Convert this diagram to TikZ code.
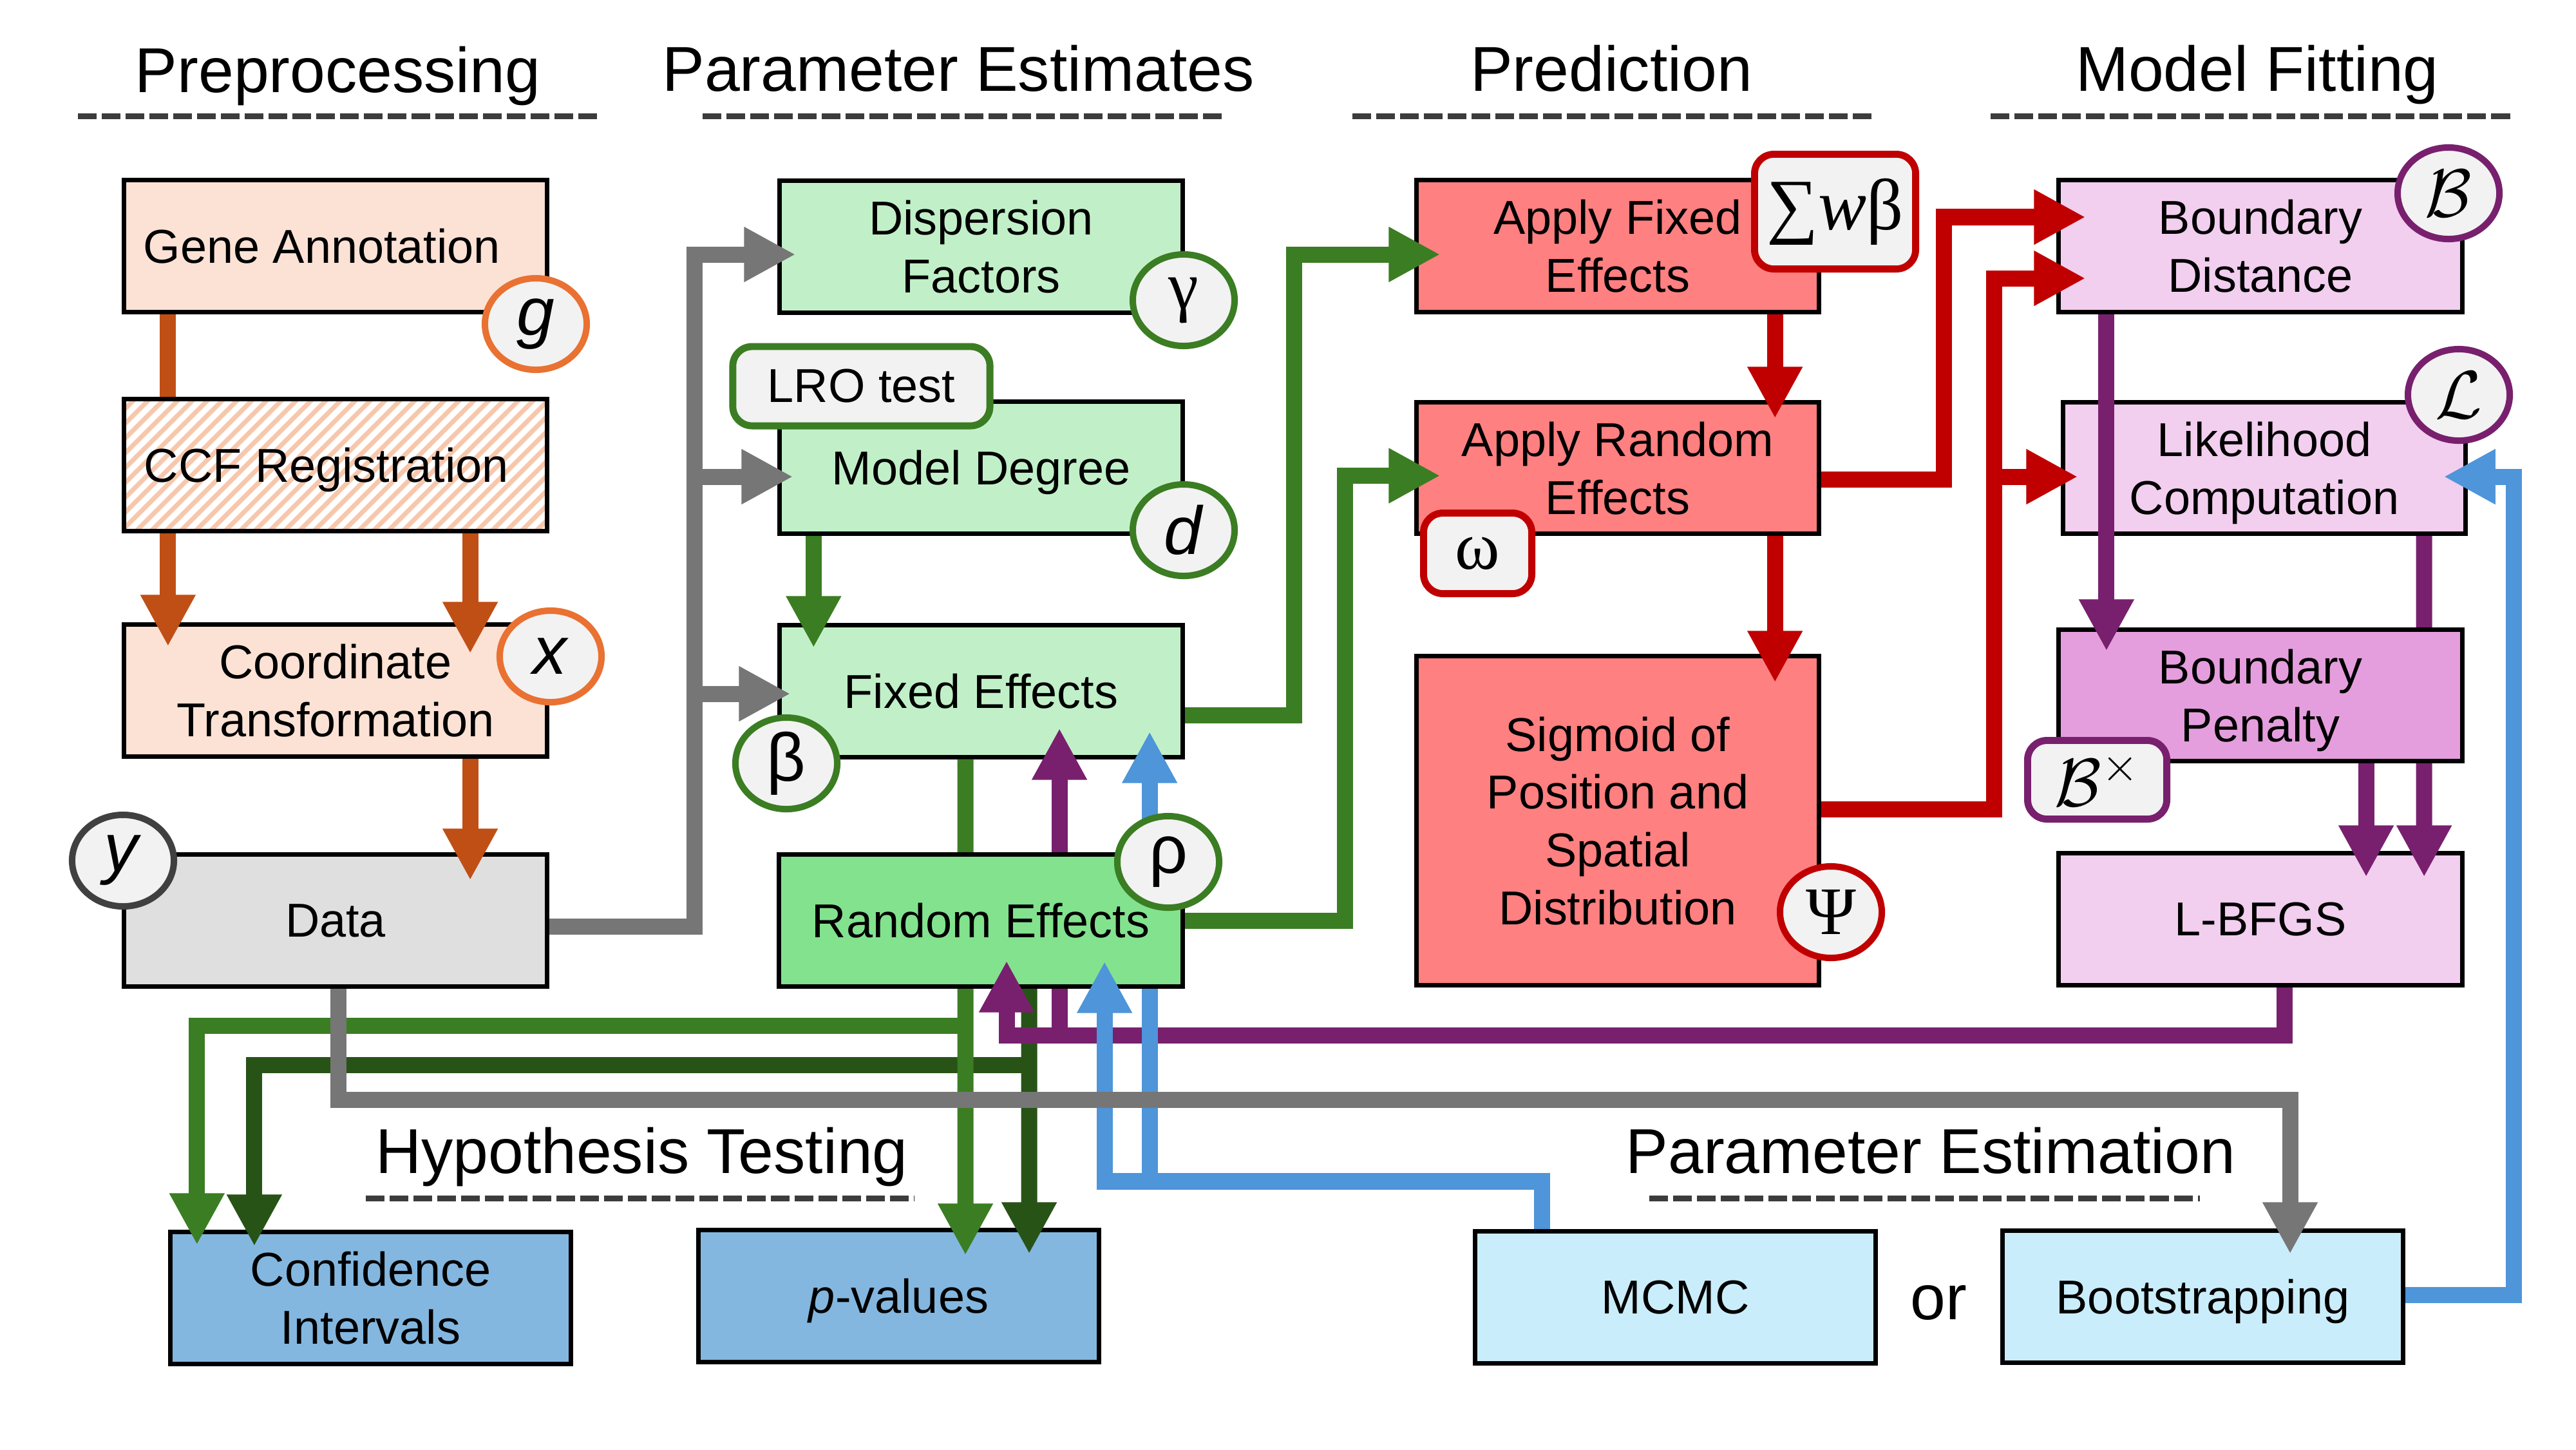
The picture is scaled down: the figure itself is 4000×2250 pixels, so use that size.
\RequirePackage{fix-cm}
\documentclass[tikz,border=0pt]{standalone}
\usepackage{fontspec}
\setmainfont{Liberation Sans}
\newfontfamily\greekserif{Liberation Serif}
\usetikzlibrary{arrows.meta,shapes.geometric}

\definecolor{orangeln}{HTML}{C04F15}
\definecolor{orangeedge}{HTML}{E97132}
\definecolor{hatchcol}{HTML}{F7C7AC}
\definecolor{prepfill}{HTML}{FBE2D5}
\definecolor{datafill}{HTML}{DFDFDF}
\definecolor{dataedge}{HTML}{404040}
\definecolor{greenln}{HTML}{3B7D23}
\definecolor{darkgreenln}{HTML}{275317}
\definecolor{parfill}{HTML}{C1F0C8}
\definecolor{randfill}{HTML}{83E28E}
\definecolor{redln}{HTML}{C00000}
\definecolor{predfill}{HTML}{FF8080}
\definecolor{purpleln}{HTML}{78206E}
\definecolor{fitfill}{HTML}{F2CEEF}
\definecolor{penfill}{HTML}{E59EDD}
\definecolor{blueln}{HTML}{4E95D9}
\definecolor{testfill}{HTML}{83B7DF}
\definecolor{estfill}{HTML}{CAEDFB}
\definecolor{grayln}{HTML}{767676}
\definecolor{sepgray}{HTML}{3C3C3C}
\definecolor{badgefill}{HTML}{F2F2F2}

\newcommand{\boxfont}{\fontsize{21}{25.5}\selectfont}
\newcommand{\headfont}{\fontsize{28}{34}\selectfont}
\newcommand{\symfont}{\fontsize{30}{36}\selectfont}
\newcommand{\sumfont}{\fontsize{32}{38}\selectfont}

\pgfdeclarelayer{front}
\pgfdeclarelayer{top}
\pgfsetlayers{main,front,top}

\tikzset{
   procbox/.style={draw=black, line width=2pt, minimum width=6.26cm, minimum height=2.04cm,
      inner sep=0pt, align=center, text depth=0pt, font=\boxfont},
   badge/.style={ellipse, draw=#1, line width=2.85pt, fill=badgefill, minimum width=1.58cm,
      minimum height=1.42cm, inner sep=0pt, font=\symfont},
   tagbox/.style={draw=#1, rounded corners=0.3cm, line width=3.1pt, fill=badgefill,
      inner sep=0pt, font=\symfont},
   wire/.style={draw=#1, line width=0.25cm},
   tipped/.style={-{Triangle[width=0.8cm,length=0.8cm]}},
   sepline/.style={draw=sepgray, line width=0.09cm, dash pattern=on 0.29cm off 0.08cm},
   hatchline/.style={draw=hatchcol, line width=0.07cm},
   heading/.style={anchor=base, inner sep=0pt, font=\headfont}
}

\begin{document}
\begin{tikzpicture}[x=0.01cm, y=-0.01cm]
   \useasboundingbox (0,0) rectangle (4000,2250);
   \fill[white] (0,0) rectangle (4000,2250);

   \node[heading] (hpre) at (524.5,143) {Preprocessing};
   \node[heading] (hpar) at (1488,141) {Parameter Estimates};
   \node[heading] (hpred) at (2502,141) {Prediction};
   \node[heading] (hfit) at (3505,141) {Model Fitting};
   \node[heading] (htest) at (996.5,1821) {Hypothesis Testing};
   \node[heading] (hest) at (2998,1821) {Parameter Estimation};
   \node[heading] (ortext) at (3010,2048) {or};
   \draw[sepline] (121,180) -- (931,180);
   \draw[sepline] (1091,180) -- (1901,180);
   \draw[sepline] (2100,180) -- (2910,180);
   \draw[sepline] (3091,180) -- (3900,180);
   \draw[sepline] (568,1860) -- (1420,1860);
   \draw[sepline] (2561,1860) -- (3416,1860);

   \node[procbox, minimum width=6.56cm, fill=prepfill] (gene) at (521,382) {Gene Annotation\kern0.42cm};
   \node[procbox, minimum width=6.56cm, fill=white, path picture={
      \foreach \k in {0,...,38}
         \draw[hatchline] (path picture bounding box.south west) ++(\k*23-211,0) -- ++(211,-211);
      }] (ccf) at (521,722) {CCF Registration\kern0.28cm};
   \node[procbox, minimum width=6.56cm, fill=prepfill] (coord) at (521,1072) {Coordinate\\Transformation};
   \node[procbox, minimum width=6.56cm, fill=datafill] (data) at (521,1429) {Data};

   \node[procbox, fill=parfill] (disp) at (1523.5,383) {Dispersion\\Factors};
   \node[procbox, fill=parfill] (mdeg) at (1523.5,726) {Model Degree};
   \node[procbox, fill=parfill] (fixed) at (1523.5,1073) {Fixed Effects};

   \node[procbox, minimum width=6.24cm, fill=predfill] (afe) at (2512,382) {Apply Fixed\\Effects};
   \node[procbox, minimum width=6.24cm, fill=predfill] (are) at (2512,726.5) {Apply Random\\Effects};
   \node[procbox, minimum width=6.24cm, minimum height=5.11cm, fill=predfill] (sig) at (2512,1274)
      {Sigmoid of\\Position and\\Spatial\\Distribution};

   \node[procbox, fill=fitfill] (bd) at (3510,382) {Boundary\\Distance};
   \node[procbox, minimum width=6.24cm, fill=fitfill] (lc) at (3516,726.5) {Likelihood\\Computation};
   \node[procbox, fill=fitfill] (lbfgs) at (3510,1427) {L-BFGS};

   \node[procbox, minimum width=6.22cm, fill=testfill] (ci) at (575.5,2015) {Confidence\\Intervals};
   \node[procbox, minimum width=6.22cm, fill=testfill] (pval) at (1395.5,2012) {\textit{p}-values};
   \node[procbox, minimum width=6.22cm, fill=estfill] (mcmc) at (2601.5,2014) {MCMC};
   \node[procbox, minimum width=6.22cm, fill=estfill] (boot) at (3420.5,2013) {Bootstrapping};

   \begin{pgfonlayer}{front}
      \node[procbox, fill=randfill] (rand) at (1523,1429) {Random Effects};
      \node[procbox, fill=penfill] (bp) at (3510,1079.5) {Boundary\\Penalty};
      \node[badge=orangeedge] (gsym) at (832,503) {\textit{g}};
      \node[badge=orangeedge] (xsym) at (855,1019) {\textit{x}};
      \node[badge=dataedge] (ysym) at (191,1336) {\textit{y}};
      \node[badge=greenln] (gamsym) at (1838,466) {\greekserif γ};
      \node[badge=greenln] (dsym) at (1838,823) {\textit{d}};
      \node[badge=greenln] (betasym) at (1221,1185) {β};
      \node[badge=greenln] (rhosym) at (1814,1338) {ρ};
      \node[badge=redln] (psisym) at (2843,1416) {\greekserif Ψ};
      \node[badge=purpleln] (bsym) at (3802,300) {$\mathcal{B}$};
      \node[badge=purpleln] (lsym) at (3818,613) {$\mathcal{L}$};
      \node[tagbox=greenln, minimum width=3.99cm, minimum height=1.23cm, font=\boxfont] (lro)
         at (1337.5,599.5) {LRO test};
      \node[tagbox=redln, minimum width=2.5cm, minimum height=1.78cm, font=\sumfont] (swb)
         at (2849.5,328.5) {\greekserif ∑\textit{w}β};
      \node[tagbox=redln, minimum width=1.68cm, minimum height=1.25cm] (omg)
         at (2294.5,859) {\greekserif ω};
      \node[tagbox=purpleln, minimum width=2.16cm, minimum height=1.22cm] (bx)
         at (3256.5,1210.5) {$\mathcal{B}^{\times}$};
   \end{pgfonlayer}

   % preprocessing
   \draw[wire=orangeln] ([xshift=-2.6cm]gene.south) -- ([xshift=-2.6cm]ccf.north);
   \draw[wire=orangeln, tipped] ([xshift=-2.6cm]ccf.south) -- ([xshift=-2.6cm,yshift=-0.37cm]coord.north);
   \draw[wire=orangeln, tipped] ([xshift=2.09cm]ccf.south) -- ([xshift=2.09cm,yshift=-0.48cm]coord.north);
   \draw[wire=orangeln, tipped] ([xshift=2.09cm]coord.south) -- ([xshift=2.09cm,yshift=-0.43cm]data.north);

   % data into the estimates
   \draw[wire=grayln, tipped] ([yshift=-0.09cm]data.east) -| ([xshift=-1.285cm,yshift=-0.12cm]disp.west)
      -- ([xshift=0.285cm,yshift=-0.12cm]disp.west);
   \draw[wire=grayln, tipped] ([xshift=-1.285cm,yshift=-0.14cm]mdeg.west) -- ([xshift=0.245cm,yshift=-0.14cm]mdeg.west);
   \draw[wire=grayln, tipped] ([xshift=-1.285cm,yshift=-0.04cm]fixed.west) -- ([xshift=0.205cm,yshift=-0.04cm]fixed.west);

   % estimates
   \draw[wire=greenln, tipped] ([xshift=-2.6cm]mdeg.south) -- ([xshift=-2.6cm,yshift=-0.38cm]fixed.north);
   \draw[wire=greenln, tipped] ([yshift=-0.37cm]fixed.east) -| ([xshift=-1.87cm,yshift=-0.13cm]afe.west)
      -- ([xshift=0.4cm,yshift=-0.13cm]afe.west);
   \draw[wire=greenln, tipped] (rand.east) -| ([xshift=-1.08cm,yshift=-0.12cm]are.west)
      -- ([xshift=0.4cm,yshift=-0.12cm]are.west);

   % hypothesis testing
   \draw[wire=darkgreenln, tipped] ([xshift=0.75cm]rand.south) -- ([xshift=2.025cm,yshift=-0.4cm]pval.north);
   \draw[wire=darkgreenln, tipped] ([xshift=2.025cm,yshift=2.53cm]pval.north) -| ([xshift=-1.805cm,yshift=-0.25cm]ci.north);
   \draw[wire=greenln, tipped] ([xshift=-0.245cm]fixed.south) -- ([xshift=1.035cm,yshift=-0.42cm]pval.north);
   \draw[wire=greenln, tipped] ([xshift=1.035cm,yshift=3.14cm]pval.north) -| ([xshift=-2.695cm,yshift=-0.23cm]ci.north);

   % prediction
   \draw[wire=redln, tipped] ([xshift=2.44cm]afe.south) -- ([xshift=2.44cm,yshift=-0.285cm]are.north);
   \draw[wire=redln, tipped] ([xshift=2.44cm]are.south) -- ([xshift=2.44cm,yshift=-0.445cm]sig.north);
   \draw[wire=redln, tipped] ([yshift=-0.175cm]are.east) -| ([xshift=-1.75cm,yshift=0.45cm]bd.west)
      -- ([xshift=0.45cm,yshift=0.45cm]bd.west);
   \draw[wire=redln, tipped] ([yshift=0.18cm]sig.east) -| ([xshift=-0.97cm,yshift=-0.5cm]bd.west)
      -- ([xshift=0.45cm,yshift=-0.5cm]bd.west);
   \draw[wire=redln, tipped] ([xshift=-1.04cm,yshift=-0.135cm]lc.west) -- ([xshift=0.26cm,yshift=-0.135cm]lc.west);

   % model fitting
   \draw[wire=purpleln, tipped] ([xshift=2.48cm]lc.south) -- ([xshift=2.54cm,yshift=-0.4cm]lbfgs.north);
   \draw[wire=purpleln, tipped] ([xshift=1.64cm]bp.south) -- ([xshift=1.64cm,yshift=-0.4cm]lbfgs.north);
   \draw[wire=purpleln, tipped] ([xshift=0.37cm]lbfgs.south) |- ([xshift=1.215cm,yshift=-4.29cm]fixed.south)
      -- ([xshift=1.215cm,yshift=0.48cm]fixed.south);

   % parameter estimation
   \draw[wire=blueln, tipped] ([xshift=-2.065cm]mcmc.north) |- ([xshift=2.615cm,yshift=-6.55cm]fixed.south)
      -- ([xshift=2.615cm,yshift=0.43cm]fixed.south);
   \draw[wire=blueln, tipped] ([yshift=0.03cm]boot.east) -| ([xshift=0.72cm,yshift=-0.135cm]lc.east)
      -- ([xshift=-0.37cm,yshift=-0.135cm]lc.east);

   \begin{pgfonlayer}{top}
      \draw[wire=purpleln, tipped] ([xshift=-2.39cm]bd.south) -- ([xshift=-2.39cm,yshift=-0.365cm]bp.north);
      \draw[wire=purpleln, tipped] ([xshift=1.215cm,yshift=-4.29cm]fixed.south) -| ([xshift=0.4cm,yshift=0.43cm]rand.south);
      \draw[wire=blueln, tipped] ([xshift=2.615cm,yshift=-6.55cm]fixed.south) -| ([xshift=1.92cm,yshift=0.42cm]rand.south);
      \draw[wire=grayln, tipped] ([xshift=0.04cm]data.south) |- ([xshift=1.355cm,yshift=2cm]boot.north)
         -- ([xshift=1.355cm,yshift=-0.39cm]boot.north);
   \end{pgfonlayer}
\end{tikzpicture}
\end{document}
